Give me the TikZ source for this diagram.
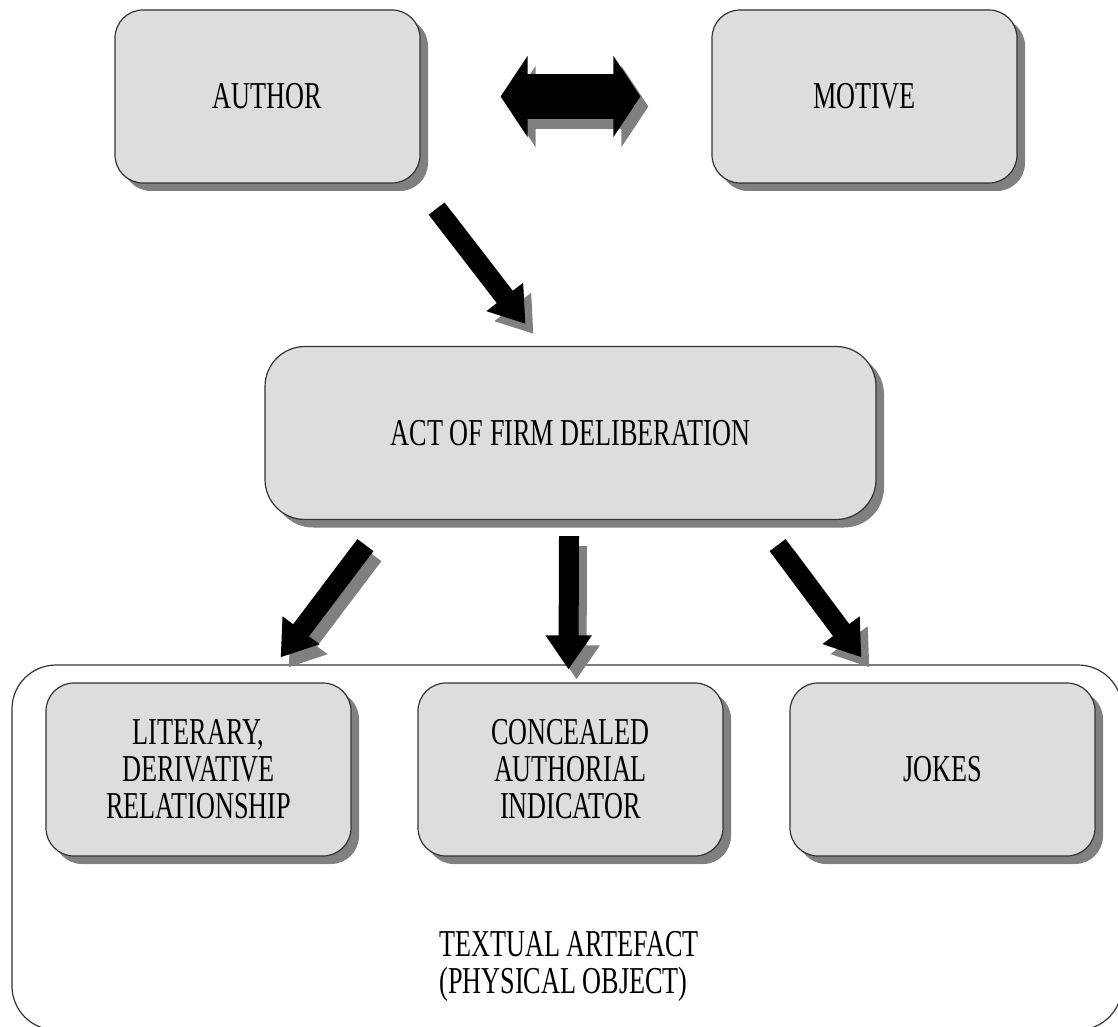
\documentclass[tikz,border=0pt]{standalone}
\usepackage{fontspec}
\setmainfont{Liberation Serif}[FakeStretch=0.69]
\usetikzlibrary{positioning,shadows,arrows.meta}
\definecolor{boxgray}{HTML}{DDDDDD}
\definecolor{shadegray}{HTML}{808080}
\begin{document}
\begin{tikzpicture}[x=0.5pt ,y=-0.5pt ,node distance =168.25pt and 186pt ,on grid ,
font=\fontsize{19}{18.5}\selectfont ,
stage/.style ={ rectangle ,rounded corners =14pt ,draw =black!80 ,line width =0.6pt ,
  fill =boxgray ,minimum width =152.5pt ,minimum height =86.5pt ,align =center ,inner sep =0pt ,
  drop shadow ={shadow xshift =4pt ,shadow yshift =-4pt ,fill =shadegray ,opacity =1}},
blockarrow/.style ={line width =10pt ,-{Triangle[length =17pt ,width =22pt]}},
twoway/.style ={line width =22.5pt ,shorten <=40pt ,shorten >=35.5pt ,
  {Triangle[length =13.5pt ,width =40pt]}-{Triangle[length =13.5pt ,width =40pt]}},
shade/.style ={draw =shadegray ,transform canvas ={shift ={(4pt,-5pt)}}}
]
\useasboundingbox (0,0) rectangle (1118,1027);
\clip (0,0) rectangle (1118,1027);
\node[draw =black!80 ,line width =0.6pt ,rounded corners =22pt ,minimum width =555pt ,
  minimum height =182.5pt ,inner sep =0pt] (artefact) at (567,847.5) {};
\node[align =left] (artefacttext) at (569,966) {TEXTUAL ARTEFACT\\(PHYSICAL OBJECT)};
\node[stage] (author) at (267.5,96.5) {AUTHOR};
\node[stage] (motive) [right =298.5pt of author] {MOTIVE};
\node[stage ,minimum width =305.5pt ,rounded corners =20pt] (act)
  [below right =168.25pt and 151.5pt of author] {ACT OF FIRM DELIBERATION};
\node[stage] (literary) [below left =of act] {LITERARY,\\DERIVATIVE\\RELATIONSHIP};
\node[stage] (concealed) [below =of act] {CONCEALED\\AUTHORIAL\\INDICATOR};
\node[stage] (jokes) [below right =of act] {JOKES};
% shadows of the arrows
\draw[twoway ,shade] (author) -- (motive);
\draw[blockarrow ,shade] ([shift ={(16,25)}]author.south east) -- ([shift ={(-45,-22)}]act.north);
\draw[blockarrow ,shade] ([shift ={(101,25)}]act.south west) -- ([shift ={(-71,-25)}]literary.north east);
\draw[blockarrow ,shade] ([shift ={(-1.5,16)}]act.south) -- ([shift ={(-2,-13)}]concealed.north);
\draw[blockarrow ,shade] ([shift ={(-99,25)}]act.south east) -- ([shift ={(72,-25)}]jokes.north west);
% arrows
\draw[twoway] (author) -- (motive);
\draw[blockarrow] ([shift ={(16,25)}]author.south east) -- ([shift ={(-45,-22)}]act.north);
\draw[blockarrow] ([shift ={(101,25)}]act.south west) -- ([shift ={(-71,-25)}]literary.north east);
\draw[blockarrow] ([shift ={(-1.5,16)}]act.south) -- ([shift ={(-2,-13)}]concealed.north);
\draw[blockarrow] ([shift ={(-99,25)}]act.south east) -- ([shift ={(72,-25)}]jokes.north west);
\end{tikzpicture}
\end{document}
